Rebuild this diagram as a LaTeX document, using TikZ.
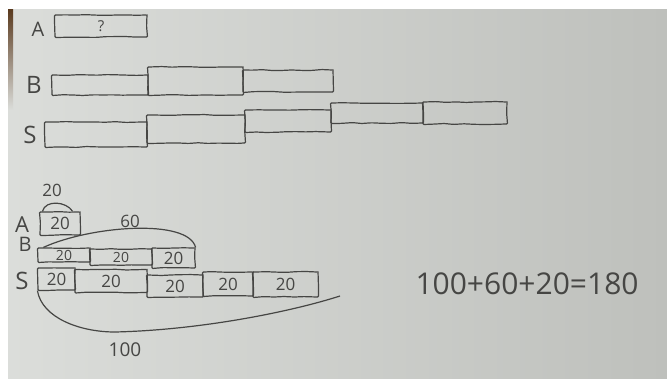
\documentclass[tikz,border=0pt]{standalone}
\usepackage{fontspec}
\setmainfont{Open Sans}
\usetikzlibrary{positioning, decorations.pathmorphing}
\definecolor{paperlight}{RGB}{219,221,218}
\definecolor{paperdark}{RGB}{190,192,188}
\definecolor{pencil}{RGB}{70,70,68}
\definecolor{tablebrown}{RGB}{90,58,30}
\tikzset{
  bar/.style={draw=pencil, line width=1.2pt, rounded corners=1pt, inner sep=0pt,
              text=pencil, font=\fontsize{17}{17}\selectfont,
              decorate, decoration={random steps, segment length=10pt, amplitude=0.5pt}},
  rowname/.style={text=pencil, font=\fontsize{24}{24}\selectfont},
  hand/.style={draw=pencil, line width=1.2pt},
  num/.style={text=pencil, font=\fontsize{17}{17}\selectfont},
}

\begin{document}
\begin{tikzpicture}[x=1pt, y=-1pt]
    \useasboundingbox (0,0) rectangle (667,378);
    % Paper
    \fill[white] (0,0) rectangle (667,378);
    \shade[left color=paperlight, right color=paperdark] (8,9) rectangle (667,378);
    \shade[top color=tablebrown, bottom color=paperlight] (8,9) rectangle (13,110);

    % --- TOP: unknown bars ---
    \node[rowname, font=\fontsize{20}{20}\selectfont] (nA) at (38,29) {A};
    \node[bar, minimum width=92pt, minimum height=22pt, font=\fontsize{15}{15}\selectfont] (a) at (101,26) {?};

    \node[rowname] (nB) at (34,85) {B};
    \node[bar, minimum width=96pt, minimum height=20pt] (b1) at (100,85) {};
    \node[bar, minimum width=95pt, minimum height=28pt] (b2) at (195.5,81) {};
    \node[bar, minimum width=90pt, minimum height=22pt] (b3) at (288,81) {};

    \node[rowname] (nS) at (30,135) {S};
    \node[bar, minimum width=102pt, minimum height=25pt] (s1) at (96,134.5) {};
    \node[bar, minimum width=98pt, minimum height=28pt] (s2) at (196,129) {};
    \node[bar, minimum width=86pt, minimum height=22pt] (s3) at (288,121) {};
    \node[bar, minimum width=92pt, minimum height=20pt] (s4) at (377,113) {};
    \node[bar, minimum width=84pt, minimum height=22pt] (s5) at (465,113) {};

    % --- BOTTOM: bars with values ---
    \node[rowname, font=\fontsize{22}{22}\selectfont] (mA) at (22,225) {A};
    \node[bar, minimum width=40pt, minimum height=23pt] (aa) at (60,223.5) {20};
    \node[num] (topA) at (52,190) {20};
    \draw[hand] ([xshift=3pt]aa.north west) .. controls +(3,-12) and +(-6,-10) .. ([xshift=-8pt]aa.north east);

    \node[rowname, font=\fontsize{20}{20}\selectfont] (mB) at (25,244) {B};
    \node[bar, minimum width=52pt, minimum height=14pt, font=\fontsize{14}{14}\selectfont] (bb1) at (64,255) {20};
    \node[bar, minimum width=62pt, minimum height=16pt, font=\fontsize{14}{14}\selectfont] (bb2) at (121,257) {20};
    \node[bar, minimum width=43pt, minimum height=20pt] (bb3) at (173.5,258) {20};
    \node[num] (topB) at (130,221) {60};
    \draw[hand] ([xshift=6pt]bb1.north west) .. controls (90,226) and (188,218) .. (bb3.north east);

    \node[rowname] (mS) at (22,281) {S};
    \node[bar, minimum width=37pt, minimum height=22pt] (ss1) at (56.5,279) {20};
    \node[bar, minimum width=72pt, minimum height=23pt] (ss2) at (111,281) {20};
    \node[bar, minimum width=56pt, minimum height=22pt] (ss3) at (175,286) {20};
    \node[bar, minimum width=50pt, minimum height=24pt] (ss4) at (228,284) {20};
    \node[bar, minimum width=65pt, minimum height=25pt] (ss5) at (285.5,284.5) {20};
    \coordinate (sEnd) at (340,296);
    \draw[hand] (ss1.south west) .. controls (42,318) and (80,332) .. (115,332)
        .. controls (200,330) and (290,312) .. (sEnd);
    \node[num, font=\fontsize{19}{19}\selectfont] (total) at (125,350) {100};

    % Sum
    \node[text=pencil, font=\fontsize{30}{30}\selectfont] (sum) at (527,284) {100+60+20=180};
\end{tikzpicture}
\end{document}
